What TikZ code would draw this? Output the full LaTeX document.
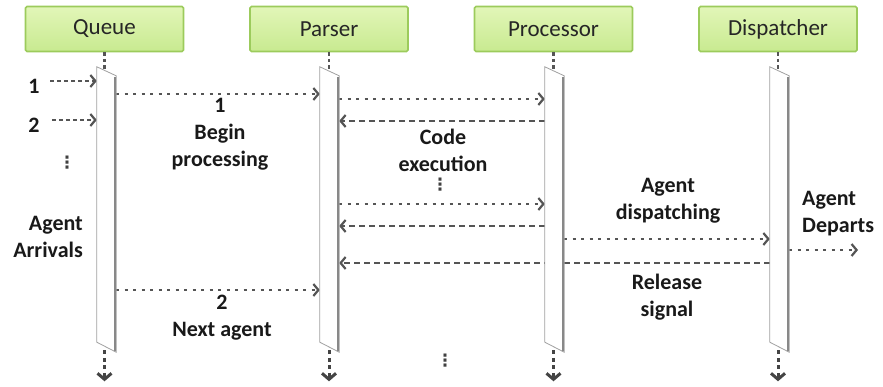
\documentclass[tikz,border=0pt]{standalone}
\usepackage{fontspec}
\setmainfont{Carlito}
\newfontfamily\dejavu{DejaVu Sans}
\usetikzlibrary{arrows.meta,calc}
\definecolor{hdrtop}{HTML}{E2F6B8}
\definecolor{hdrbot}{HTML}{C8EA90}
\definecolor{hdrline}{HTML}{9CCB5C}
\definecolor{ln}{HTML}{555555}
\definecolor{barline}{HTML}{A0A0A0}
\definecolor{barshade}{HTML}{888888}
\newcommand\drawbar[1]{%
  \filldraw[fill=white, draw=barline, line width=0.8pt] (#1.north west) -- ($(#1.north east)+(0,9)$) -- (#1.south east) -- ($(#1.south west)+(0,-10)$) -- cycle;
  \draw[barshade, line width=2.6pt] ($(#1.north east)+(-1.4,10)$) -- ($(#1.south east)+(-1.4,-1)$);
}
\begin{document}
\begin{tikzpicture}[x=1pt,y=-1pt,
  hdr/.style={draw=hdrline, line width=1.6pt, rounded corners=1.5pt, top color=hdrtop, bottom color=hdrbot,
    minimum width=158pt, minimum height=45pt, inner sep=0, text=black!85, font=\fontsize{23}{25}\selectfont},
  barnode/.style={minimum width=19pt, minimum height=285pt, inner sep=0},
  lbl/.style={font=\bfseries\fontsize{22}{27}\selectfont, align=center, inner sep=0, text=black!90},
  vdot/.style={font=\dejavu\bfseries\fontsize{17}{17}\selectfont, inner sep=0, text=black!75},
  tip/.style={-{Straight Barb[length=5pt,width=12pt]}},
  dotline/.style={ln, line width=2.2pt, dash pattern=on 3pt off 5.5pt, tip},
  dashline/.style={ln, line width=2.2pt, dash pattern=on 6pt off 4pt, tip},
  stem/.style={ln, line width=2.8pt, dash pattern=on 3.5pt off 3pt},
  endarrow/.style={ln!80!black, line width=3pt, dash pattern=on 4pt off 3.5pt, -{Straight Barb[length=6pt,width=14pt]}},
]
\useasboundingbox (0,0) rectangle (883,387);
% headers
\node[hdr] (q) at (104.5,29) {Queue};
\node[hdr] (p) at (329,29) {Parser};
\node[hdr] (x) at (553.5,29) {Processor};
\node[hdr] (d) at (778,29) {Dispatcher};
% bar placeholders
\node[barnode] (qb) at (106.5,209.5) {};
\node[barnode] (pb) at (329.5,209.5) {};
\node[barnode] (xb) at (554.5,209.5) {};
\node[barnode] (db) at (779.5,209.5) {};
% stems
\foreach \h in {q,p,x,d}{
  \draw[stem] (\h.south) -- ($(\h.south)+(0,18)$);
  \draw[endarrow] ($(\h.south)+(0,298)$) -- ($(\h.south)+(0,329)$);
}
% free ends
\coordinate (in1) at (50,81);
\coordinate (in2) at (52,120);
\coordinate (out) at (858,250);
% messages
\draw[dashline, dash pattern=on 4pt off 3pt] (in1) -- (in1 -| qb.west);
\draw[dashline, dash pattern=on 4pt off 3pt] (in2) -- (in2 -| qb.west);
\draw[dotline] (qb.east |- 0,94) -- (pb.west |- 0,94);
\draw[dotline] (pb.east |- 0,99) -- (xb.west |- 0,99);
\draw[dashline] (xb.west |- 0,121) -- (pb.east |- 0,121);
\draw[dotline] (pb.east |- 0,204) -- (xb.west |- 0,204);
\draw[dashline] (xb.west |- 0,226) -- (pb.east |- 0,226);
\draw[dotline] (xb.east |- 0,239) -- (db.west |- 0,239);
\draw[dashline] (db.west |- 0,263) -- (pb.east |- 0,263);
\draw[dotline] (db.east |- out) -- (out);
\draw[dotline] (qb.east |- 0,290) -- (pb.west |- 0,290);
% bars
\drawbar{qb}
\drawbar{pb}
\drawbar{xb}
\drawbar{db}
% labels
\node[lbl] (l1) at (34,86) {1};
\node[lbl] (l2) at (34,125) {2};
\node[vdot] (v1) at (67,163) {⋮};
\node[lbl, align=right, anchor=east] (arr) at (83,237) {Agent\\Arrivals};
\node[lbl] (bp) at (220,134) {1\\Begin\\processing};
\node[lbl] (ce) at (443,150) {Code\\execution};
\node[vdot] (v2) at (440,185) {⋮};
\node[lbl] (ad) at (668,201) {Agent\\dispatching};
\node[lbl] (rs) at (667,297) {Release\\signal};
\node[lbl, align=left, anchor=west] (dep) at (802,214) {Agent\\Departs};
\node[lbl] (na) at (222,318) {2\\Next agent};
\node[vdot] (v3) at (445,361) {⋮};
\end{tikzpicture}
\end{document}
